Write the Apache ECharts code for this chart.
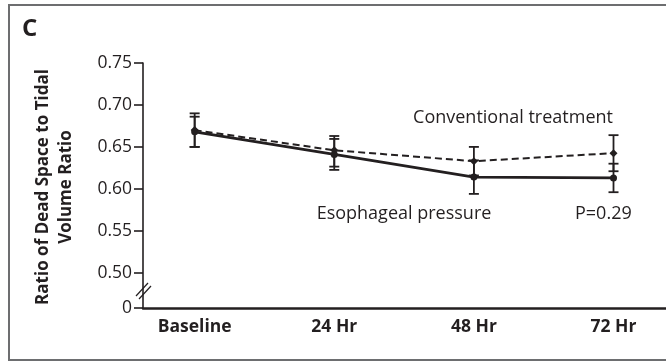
<!DOCTYPE html>
<html><head><meta charset="utf-8">
<script src="https://cdn.jsdelivr.net/npm/echarts@6/dist/echarts.min.js"></script>
<style>html,body{margin:0;padding:0;background:#fff}#c{width:666px;height:361px}</style>
</head><body><div id="c"></div>
<script>
var categories = ['Baseline', '24 Hr', '48 Hr', '72 Hr'];
var convMean = [0.670, 0.646, 0.633, 0.6425];
var convLow  = [0.650, 0.6265, 0.616, 0.621];
var convHigh = [0.690, 0.663, 0.650, 0.664];
var esoMean  = [0.668, 0.641, 0.614, 0.613];
var esoLow   = [0.650, 0.6226, 0.594, 0.596];
var esoHigh  = [0.686, 0.6595, 0.634, 0.630];
var yTickValues = [0.458, 0.50, 0.55, 0.60, 0.65, 0.70, 0.75];
var yBreakValue = 0.458; // shown as "0"

var ink = '#231f20';
var font = 'Open Sans';

function pts(m){ return m.map(function(v,i){ return [i, v]; }); }
function errData(lo, hi){ return lo.map(function(v,i){ return [i, v, hi[i]]; }); }

function errRender(params, api){
  var x = api.value(0);
  var p1 = api.coord([x, api.value(1)]);
  var p2 = api.coord([x, api.value(2)]);
  var w = 5;
  var st = {stroke: ink, lineWidth: 1.8};
  return {type:'group', children:[
    {type:'line', shape:{x1:p1[0],y1:p1[1],x2:p2[0],y2:p2[1]}, style:st},
    {type:'line', shape:{x1:p1[0]-w,y1:p1[1],x2:p1[0]+w,y2:p1[1]}, style:st},
    {type:'line', shape:{x1:p2[0]-w,y1:p2[1],x2:p2[0]+w,y2:p2[1]}, style:st}
  ]};
}

var chart = echarts.init(document.getElementById('c'), null, {renderer:'canvas'});
chart.setOption({
  animation: false,
  grid: {left: 143, right: 0, top: 63, bottom: 53},
  xAxis: {
    type: 'value', min: -0.37, max: 3.376,
    splitLine: {show:false},
    axisLine: {show:true, onZero:false, lineStyle:{color: ink, width: 2.5}},
    axisTick: {show:false},
    axisLabel: {customValues:[0,1,2,3], formatter: function(v){ return categories[Math.round(v)]; },
      color: ink, fontFamily: font, fontWeight: 'bold', fontSize: 17.5, margin: 10}
  },
  yAxis: {
    type: 'value', min: yBreakValue, max: 0.75,
    splitLine: {show:false},
    axisLine: {show:true, onZero:false, lineStyle:{color: ink, width: 1.6}},
    axisTick: {show:true, customValues: yTickValues, length: 9, lineStyle:{color: ink, width:1.6}},
    axisLabel: {customValues: yTickValues, formatter: function(v){ return v < 0.49 ? '0' : v.toFixed(2); },
      color: ink, fontFamily: font, fontSize: 17.5, margin: 11}
  },
  series: [
    {type:'custom', renderItem: errRender, data: errData(convLow, convHigh), z: 3},
    {type:'custom', renderItem: errRender, data: errData(esoLow, esoHigh), z: 3},
    {type:'line', data: pts(convMean), symbol:'diamond', symbolSize: 8,
      lineStyle:{color: ink, width: 2, type: [7,4]}, itemStyle:{color: ink}, z: 4},
    {type:'line', data: pts(esoMean), symbol:'circle', symbolSize: 7,
      lineStyle:{color: ink, width: 2.8}, itemStyle:{color: ink}, z: 5}
  ],
  graphic: [
    {type:'rect', shape:{x:9, y:5, width:700, height:355}, style:{fill:'none', stroke:'#6d6e70', lineWidth:2}, silent:true},
    {type:'text', x: 22, y: 29, style:{text:'C', font:'bold 24px "Open Sans"', fill: ink, textVerticalAlign:'middle'}},
    {type:'text', x: 43, y: 187, rotation: Math.PI/2, style:{text:'Ratio of Dead Space to Tidal', font:'bold 17px "Open Sans"', fill: ink, textAlign:'center', textVerticalAlign:'middle'}},
    {type:'text', x: 66, y: 187, rotation: Math.PI/2, style:{text:'Volume Ratio', font:'bold 17px "Open Sans"', fill: ink, textAlign:'center', textVerticalAlign:'middle'}},
    {type:'line', shape:{x1:136, y1:296, x2:148, y2:283}, style:{stroke: ink, lineWidth:1.2}},
    {type:'line', shape:{x1:139, y1:299, x2:151, y2:286}, style:{stroke: ink, lineWidth:1.2}},
    {type:'text', x: 513, y: 118, style:{text:'Conventional treatment', font:'18px "Open Sans"', fill: ink, textAlign:'center', textVerticalAlign:'middle'}},
    {type:'text', x: 404, y: 214, style:{text:'Esophageal pressure', font:'18px "Open Sans"', fill: ink, textAlign:'center', textVerticalAlign:'middle'}},
    {type:'text', x: 575, y: 214, style:{text:'P=0.29', font:'18px "Open Sans"', fill: ink, textAlign:'left', textVerticalAlign:'middle'}}
  ]
});
</script></body></html>
